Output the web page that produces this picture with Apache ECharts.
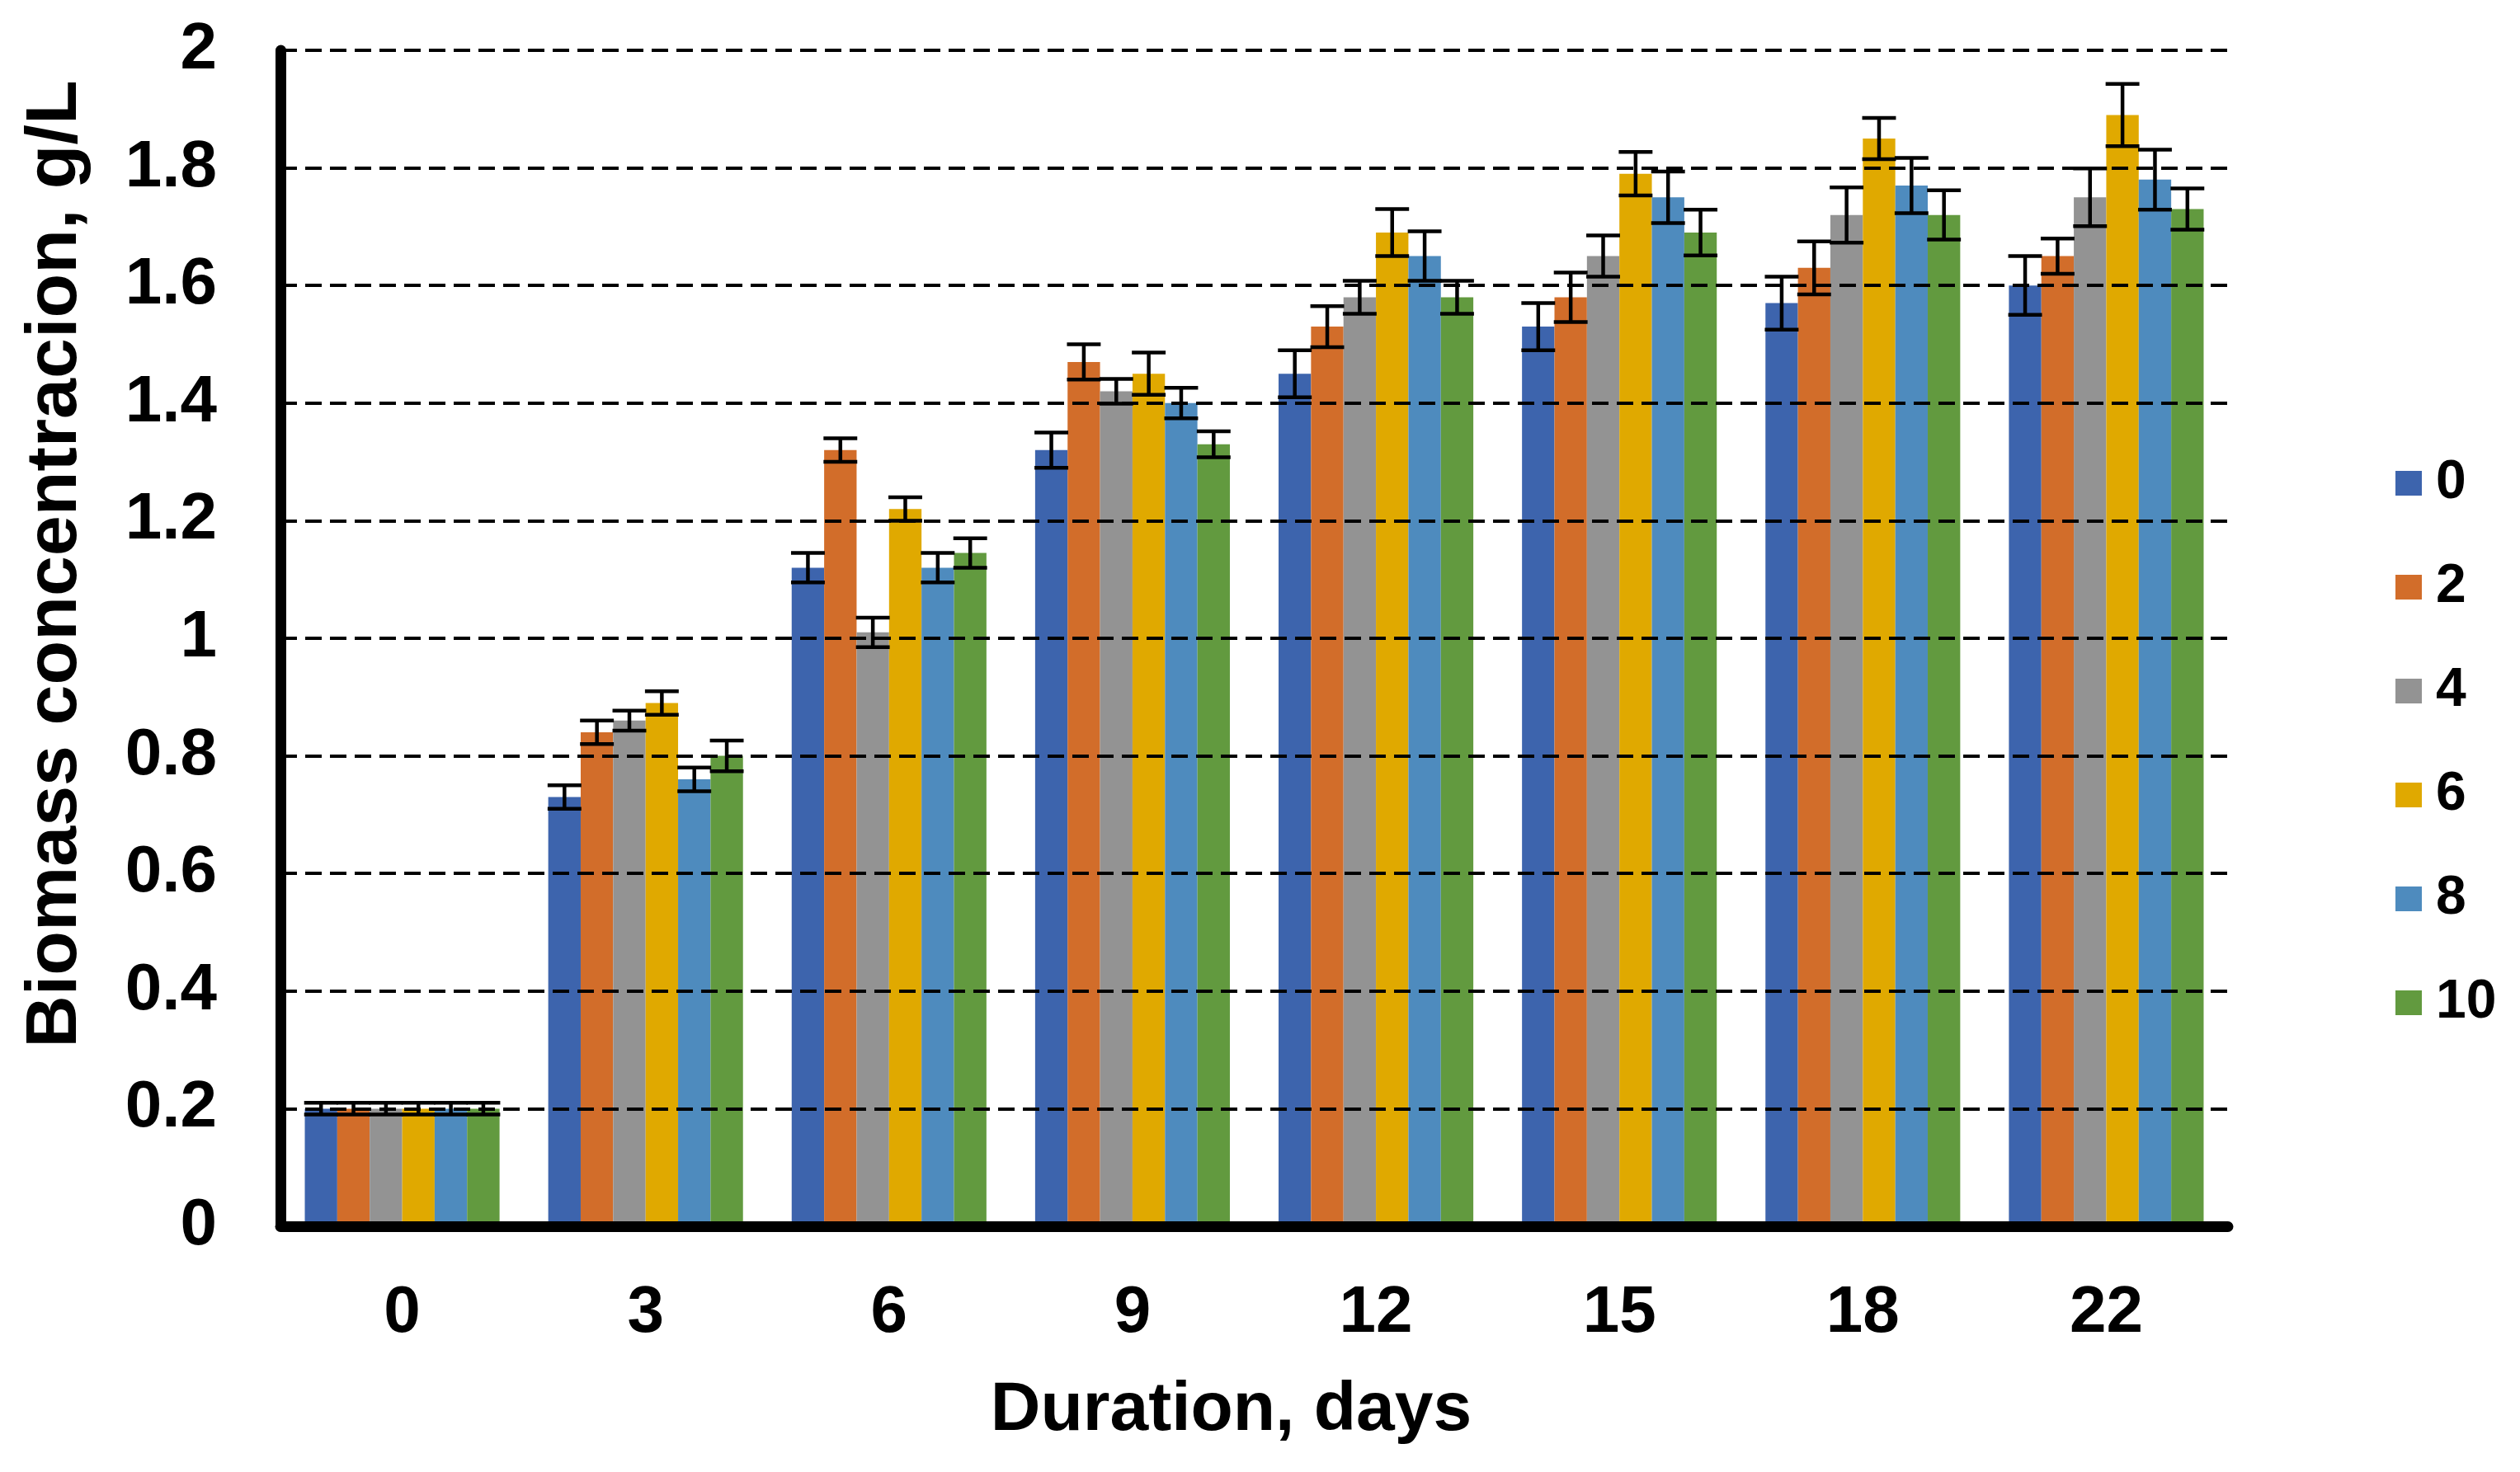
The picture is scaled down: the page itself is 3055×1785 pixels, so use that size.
<!DOCTYPE html>
<html>
<head>
<meta charset="utf-8">
<script src="https://cdn.jsdelivr.net/npm/echarts@6/dist/echarts.min.js"></script>
<style>
html,body{margin:0;padding:0;background:#fff;}
#chart{width:3055px;height:1785px;}
</style>
</head>
<body>
<div id="chart"></div>
<script>
const categories = ['0','3','6','9','12','15','18','22'];
const seriesNames = ['0','2','4','6','8','10'];
const s0  = [0.20, 0.73, 1.12, 1.32, 1.45, 1.53, 1.57, 1.60];
const s2  = [0.20, 0.84, 1.32, 1.47, 1.53, 1.58, 1.63, 1.65];
const s4  = [0.20, 0.86, 1.01, 1.42, 1.58, 1.65, 1.72, 1.75];
const s6  = [0.20, 0.89, 1.22, 1.45, 1.69, 1.79, 1.85, 1.89];
const s8  = [0.20, 0.76, 1.12, 1.40, 1.65, 1.75, 1.77, 1.78];
const s10 = [0.20, 0.80, 1.145, 1.33, 1.58, 1.69, 1.72, 1.73];
const e0  = [0.01, 0.02, 0.025, 0.03, 0.04, 0.04, 0.045, 0.05];
const e2  = [0.01, 0.02, 0.02, 0.03, 0.035, 0.042, 0.045, 0.03];
const e4  = [0.01, 0.017, 0.025, 0.021, 0.028, 0.035, 0.047, 0.049];
const e6  = [0.01, 0.02, 0.02, 0.036, 0.04, 0.037, 0.035, 0.053];
const e8  = [0.01, 0.02, 0.025, 0.026, 0.042, 0.044, 0.047, 0.051];
const e10 = [0.01, 0.026, 0.025, 0.022, 0.028, 0.039, 0.042, 0.035];
const yTicks = {min: 0, max: 2, interval: 0.2};

const values = [s0, s2, s4, s6, s8, s10];
const errors = [e0, e2, e4, e6, e8, e10];
const colors = ['#3D64AD', '#D26D2A', '#939393', '#E0A900', '#4E8BBE', '#629A3F'];
const FONT = '"Liberation Sans", Arial, sans-serif';

const errData = [];
values.forEach((arr, si) => {
  arr.forEach((v, ci) => errData.push([ci, si, v, errors[si][ci]]));
});

const chart = echarts.init(document.getElementById('chart'));
const barSeries = values.map((arr, i) => ({
  name: seriesNames[i],
  type: 'bar',
  data: arr,
  barGap: '0%',
  barCategoryGap: '20%',
  itemStyle: {color: colors[i]},
  z: 2
}));

const errSeries = {
  type: 'custom',
  name: 'err',
  data: errData,
  z: 5,
  renderItem: function (params, api) {
    const ci = api.value(0), si = api.value(1), v = api.value(2), e = api.value(3);
    const c = api.coord([ci, v]);
    const bw = api.size([1, 0])[0] * 0.8 / 6;
    const x = c[0] + (si - 2.5) * bw;
    const yt = api.coord([ci, v + e])[1];
    const yb = api.coord([ci, v - e])[1];
    const hw = bw * 0.52;
    const st = {stroke: '#000', lineWidth: 4.5};
    return {
      type: 'group',
      children: [
        {type: 'line', shape: {x1: x, y1: yt, x2: x, y2: yb}, style: st},
        {type: 'line', shape: {x1: x - hw, y1: yt, x2: x + hw, y2: yt}, style: st},
        {type: 'line', shape: {x1: x - hw, y1: yb, x2: x + hw, y2: yb}, style: st}
      ]
    };
  }
};

chart.setOption({
  animation: false,
  backgroundColor: '#fff',
  textStyle: {fontFamily: FONT},
  grid: {left: 340, right: 354, top: 61, bottom: 298, containLabel: false},
  legend: {
    orient: 'vertical',
    left: 2904,
    top: 553,
    padding: 0,
    itemWidth: 32,
    itemHeight: 30,
    itemGap: 60,
    icon: 'rect',
    data: seriesNames,
    textStyle: {fontFamily: FONT, fontSize: 66, fontWeight: 'bold', color: '#000', padding: [0, 0, 0, 12]}
  },
  xAxis: {
    type: 'category',
    data: categories,
    name: 'Duration, days',
    nameLocation: 'middle',
    nameGap: 182,
    nameTextStyle: {fontFamily: FONT, fontSize: 84, fontWeight: 'bold', color: '#000', padding: [0, 56, 0, 0]},
    axisLine: {show: true, lineStyle: {color: '#000', width: 13}},
    axisTick: {show: false},
    axisLabel: {fontFamily: FONT, fontSize: 80, fontWeight: 'bold', color: '#000', margin: 66},
    z: 10
  },
  yAxis: {
    type: 'value',
    min: yTicks.min,
    max: yTicks.max,
    interval: yTicks.interval,
    name: 'Biomass concentracion, g/L',
    nameLocation: 'middle',
    nameGap: 228,
    nameTextStyle: {fontFamily: FONT, fontSize: 88, fontWeight: 'bold', color: '#000', padding: [0, 0, 0, 180]},
    axisLine: {show: true, lineStyle: {color: '#000', width: 13}},
    axisTick: {show: false},
    axisLabel: {fontFamily: FONT, fontSize: 80, fontWeight: 'bold', color: '#000', margin: 77},
    splitLine: {show: true, lineStyle: {color: '#000', width: 4, type: [20, 10]}},
    z: 10
  },
  series: barSeries.concat([errSeries])
});
</script>
</body>
</html>
